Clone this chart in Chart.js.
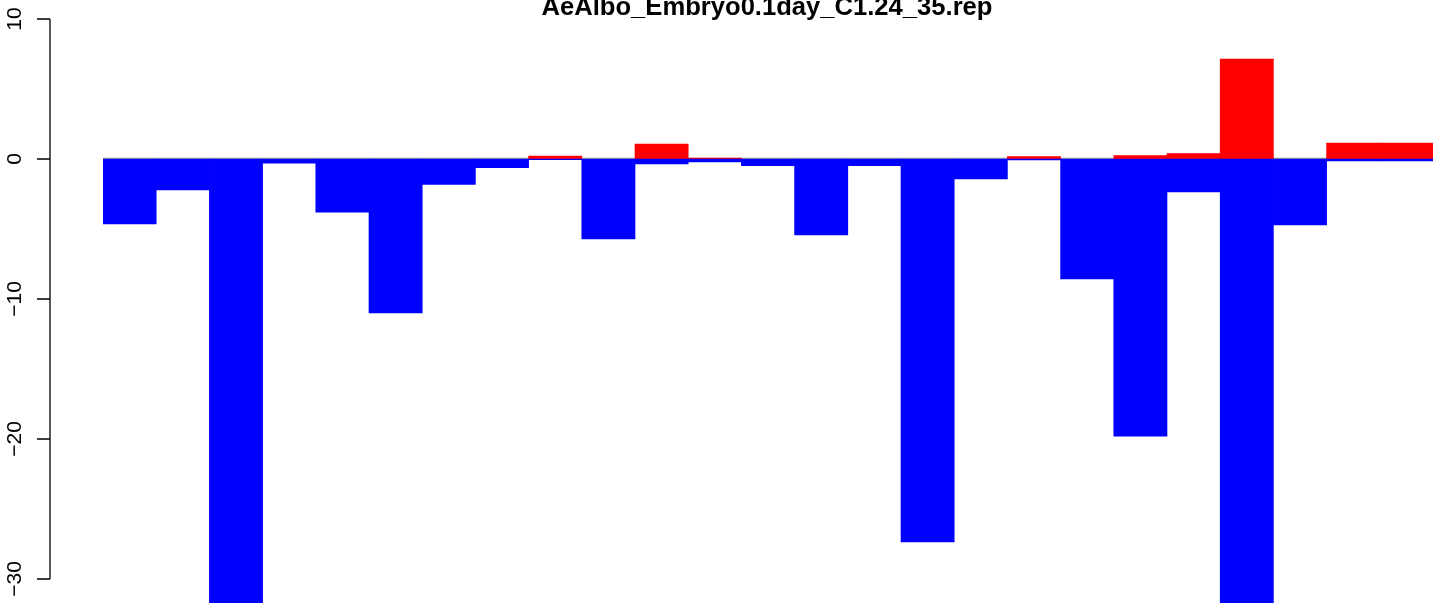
<!DOCTYPE html>
<html>
<head>
<meta charset="utf-8">
<script src="https://cdn.jsdelivr.net/npm/chart.js@4/dist/chart.umd.min.js"></script>
<style>
  html, body { margin: 0; padding: 0; background: #fff; overflow: hidden; }
  #wrap { width: 1436px; height: 603px; position: relative; overflow: hidden; }
</style>
</head>
<body>
<div id="wrap"><canvas id="c" width="1436" height="603"></canvas></div>
<script>
const title = "AeAlbo_Embryo0.1day_C1.24_35.rep";
const categories = ["1","2","3","4","5","6","7","8","9","10","11","12","13","14","15","16","17","18","19","20","21","22","23","24","25"];
const positiveValues = [0, 0, 0, 0, 0, 0, 0, 0, 0.2, 0, 1.07, 0.07, 0, 0, 0, 0, 0, 0.17, 0, 0.24, 0.38, 7.14, 0, 1.14, 1.14];
const negativeValues = [-4.64, -2.21, -32, -0.29, -3.79, -11.0, -1.81, -0.62, -0.05, -5.7, -0.36, -0.2, -0.48, -5.43, -0.48, -27.36, -1.43, -0.07, -8.57, -19.8, -2.36, -32, -4.71, -0.14, -0.14];
const yTicks = [10, 0, -10, -20, -30];
const yTickLabels = yTicks.map(v => String(v).replace('-', '\u2212'));

const rAxisPlugin = {
  id: 'rAxis',
  beforeDatasetsDraw(chart) {
    const ctx = chart.ctx, y = chart.scales.y, a = chart.chartArea;
    const y0 = y.getPixelForValue(0);
    ctx.save();
    ctx.strokeStyle = '#a0a0a0';
    ctx.lineWidth = 1.2;
    ctx.beginPath();
    ctx.moveTo(a.left, y0 - 0.6);
    ctx.lineTo(a.right, y0 - 0.6);
    ctx.stroke();
    ctx.restore();
  },
  afterDraw(chart) {
    const ctx = chart.ctx, y = chart.scales.y, a = chart.chartArea;
    ctx.save();
    const axisX = 50;
    ctx.strokeStyle = '#000';
    ctx.lineWidth = 1.3;
    ctx.beginPath();
    ctx.moveTo(axisX, y.getPixelForValue(yTicks[0]));
    ctx.lineTo(axisX, y.getPixelForValue(yTicks[yTicks.length - 1]));
    yTicks.forEach(v => {
      const py = y.getPixelForValue(v);
      ctx.moveTo(axisX, py);
      ctx.lineTo(axisX - 13, py);
    });
    ctx.stroke();
    ctx.fillStyle = '#000';
    ctx.font = '21px "Liberation Sans", Arial, sans-serif';
    ctx.textAlign = 'center';
    ctx.textBaseline = 'alphabetic';
    yTicks.forEach((v, i) => {
      const py = y.getPixelForValue(v);
      ctx.save();
      ctx.translate(21, py);
      ctx.rotate(-Math.PI / 2);
      ctx.fillText(yTickLabels[i], 0, 0);
      ctx.restore();
    });
    ctx.font = 'bold 25.6px "Liberation Sans", Arial, sans-serif';
    ctx.textAlign = 'center';
    ctx.fillText(title, (a.left + a.right) / 2 - 1, 15);
    ctx.restore();
  }
};

new Chart(document.getElementById('c'), {
  type: 'bar',
  data: {
    labels: categories,
    datasets: [
      { label: 'negative', data: negativeValues.map(v => v === 0 ? null : v), backgroundColor: '#0000ff', borderWidth: 0, barPercentage: 1, categoryPercentage: 1 },
      { label: 'positive', data: positiveValues.map(v => v === 0 ? null : v), backgroundColor: '#ff0000', borderWidth: 0, barPercentage: 1, categoryPercentage: 1 }
    ]
  },
  options: {
    responsive: false,
    animation: false,
    devicePixelRatio: 1,
    layout: { padding: { left: 103, right: 3, top: 0, bottom: 0 } },
    plugins: { legend: { display: false }, tooltip: { enabled: false }, title: { display: false } },
    scales: {
      x: { display: false, stacked: true, offset: true },
      y: { display: false, stacked: true, min: -31.714, max: 11.357 }
    }
  },
  plugins: [rAxisPlugin]
});
</script>
</body>
</html>
